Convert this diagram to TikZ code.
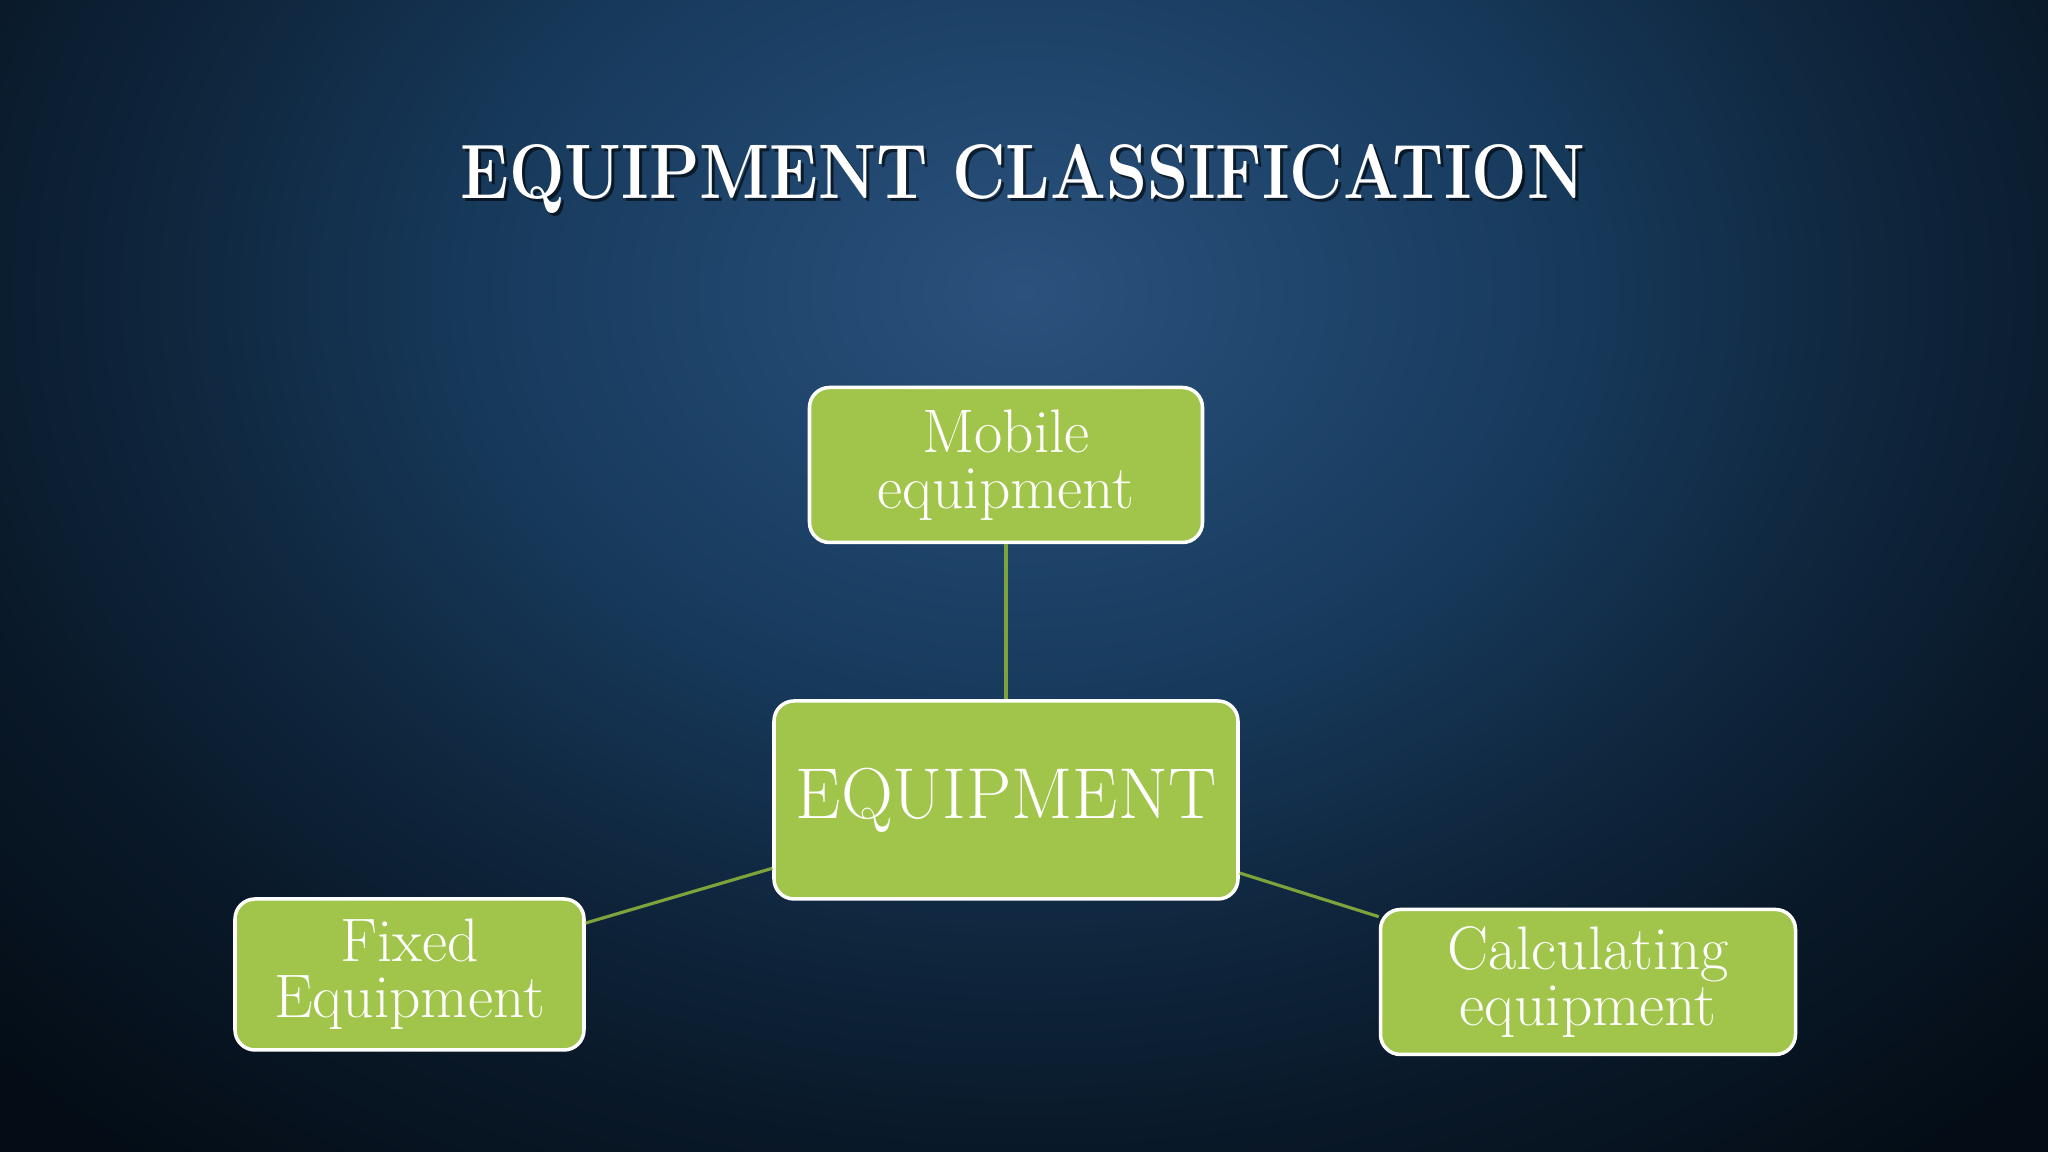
\documentclass[tikz,border=0pt]{standalone}
\usepackage{graphicx}
\definecolor{bgmid}{HTML}{2A527C}
\definecolor{bgmid2}{HTML}{224870}
\definecolor{bgouter}{HTML}{173A5C}
\definecolor{bgedge}{HTML}{0F263D}
\definecolor{bgdeep}{HTML}{091828}
\definecolor{bgdark}{HTML}{040D16}
\definecolor{leaf}{HTML}{A1C44A}
\definecolor{linkgreen}{HTML}{7FA33C}
\pgfdeclareradialshading{bgglow}{\pgfpoint{0bp}{0bp}}{color(0bp)=(bgmid); color(5bp)=(bgmid2); color(12bp)=(bgouter); color(19bp)=(bgedge); color(25bp)=(bgdeep); color(32bp)=(bgdark); color(50bp)=(bgdark)}
\tikzset{
  box/.style={draw=white, line width=1pt, fill=leaf, rounded corners=0.2cm,
    text=white, align=center, inner sep=0pt},
  link/.style={draw=linkgreen, line width=0.9pt},
}
\begin{document}
\begin{tikzpicture}
    \useasboundingbox (0cm,0cm) rectangle (20.48cm,11.52cm);
    \begin{scope}
    \clip (0cm,0cm) rectangle (20.48cm,11.52cm);
    \shade[shading=bgglow] (-1cm,0cm) rectangle (21.48cm,17.2cm);
    \end{scope}
    \node[text=black, opacity=0.6] (titleshadow) at (10.26cm,9.70cm)
        {\fontsize{22}{24}\selectfont\bfseries\scalebox{0.85}[1]{EQUIPMENT\ CLASSIFICATION}};
    \node[text=white] (title) at (10.23cm,9.73cm)
        {\fontsize{22}{24}\selectfont\bfseries\scalebox{0.85}[1]{EQUIPMENT\ CLASSIFICATION}};
    \node[box, minimum width=4.64cm, minimum height=1.98cm, font=\fontsize{20.5}{22}\selectfont] (equip) at (10.06cm,3.52cm) {EQUIPMENT};
    \node[box, minimum width=3.93cm, minimum height=1.55cm, font=\fontsize{17.5}{16}\selectfont] (mobile) at (10.06cm,6.87cm) {Mobile\\equipment};
    \node[box, minimum width=3.49cm, minimum height=1.51cm, font=\fontsize{17.5}{16}\selectfont] (fixed) at (4.095cm,1.775cm) {Fixed\\Equipment};
    \node[box, minimum width=4.15cm, minimum height=1.45cm, font=\fontsize{17.5}{16}\selectfont] (calc) at (15.88cm,1.70cm) {Calculating\\equipment};
    \draw[link] (mobile) -- (equip);
    \draw[link] (fixed) -- (equip);
    \draw[link] (equip) -- (calc);
\end{tikzpicture}
\end{document}
